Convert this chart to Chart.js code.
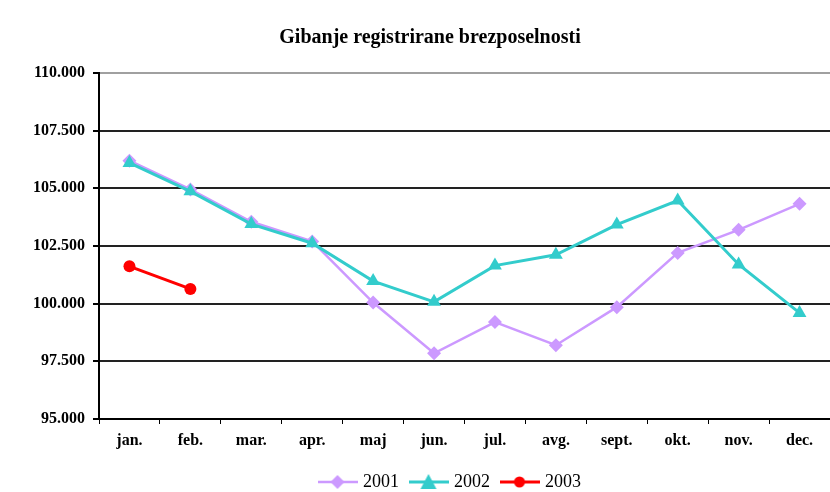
<!DOCTYPE html>
<html>
<head>
<meta charset="utf-8">
<title>Gibanje registrirane brezposelnosti</title>
<style>
html, body { margin: 0; padding: 0; background: #fff; }
#wrap { width: 830px; height: 492px; }
</style>
</head>
<body>
<div id="wrap"><canvas id="myChart" width="830" height="492"></canvas></div>
<script src="https://cdn.jsdelivr.net/npm/chart.js@4/dist/chart.umd.min.js"></script>
<script>
// données
const chartTitle = 'Gibanje registrirane brezposelnosti';
const months = ['jan.', 'feb.', 'mar.', 'apr.', 'maj', 'jun.', 'jul.', 'avg.', 'sept.', 'okt.', 'nov.', 'dec.'];
const values2001 = [106200, 104950, 103550, 102700, 100050, 97850, 99200, 98200, 99850, 102200, 103200, 104330];
const values2002 = [106100, 104870, 103450, 102620, 100980, 100080, 101650, 102120, 103430, 104470, 101700, 99600];
const values2003 = [101620, 100640];
const yMin = 95000;
const yMax = 110000;
const yStep = 2500;

const serif = "'Liberation Serif', 'Times New Roman', serif";
Chart.defaults.font.family = serif;
Chart.defaults.color = '#000';

// petite image ligne + marqueur pour la légende
function legendIcon(color, shape, lw) {
    const c = document.createElement('canvas');
    c.width = 40;
    c.height = 16;
    const ctx = c.getContext('2d');
    ctx.strokeStyle = color;
    ctx.fillStyle = color;
    ctx.lineWidth = lw;
    ctx.beginPath();
    ctx.moveTo(0, 8);
    ctx.lineTo(40, 8);
    ctx.stroke();
    ctx.beginPath();
    if (shape === 'diamond') {
        ctx.moveTo(20, 1); ctx.lineTo(27, 8); ctx.lineTo(20, 15); ctx.lineTo(13, 8);
    } else if (shape === 'triangle') {
        ctx.moveTo(20, 0); ctx.lineTo(28, 15); ctx.lineTo(12, 15);
    } else {
        ctx.arc(20, 8, 5.5, 0, Math.PI * 2);
    }
    ctx.closePath();
    ctx.fill();
    return c;
}
const icons = [
    legendIcon('#CC99FF', 'diamond', 2.5),
    legendIcon('#33CCCC', 'triangle', 3),
    legendIcon('#FF0000', 'circle', 3)
];

// décaler la légende comme sur l'original
const shiftLegend = {
    id: 'shiftLegend',
    afterLayout(chart) {
        chart.legend.left += 21;
        chart.legend.right += 21;
    }
};

const chart = new Chart(document.getElementById('myChart'), {
    type: 'line',
    data: {
        labels: months,
        datasets: [
            {
                label: '2001',
                data: values2001,
                borderColor: '#CC99FF',
                backgroundColor: '#CC99FF',
                borderWidth: 2.5,
                pointStyle: 'rectRot',
                pointRadius: 7,
                pointBorderWidth: 0,
                order: 3
            },
            {
                label: '2002',
                data: values2002,
                borderColor: '#33CCCC',
                backgroundColor: '#33CCCC',
                borderWidth: 3,
                pointStyle: 'triangle',
                pointRadius: 8,
                pointBorderWidth: 0,
                order: 2
            },
            {
                label: '2003',
                data: values2003,
                borderColor: '#FF0000',
                backgroundColor: '#FF0000',
                borderWidth: 3,
                pointStyle: 'circle',
                pointRadius: 6,
                pointBorderWidth: 0,
                order: 1
            }
        ]
    },
    options: {
        responsive: false,
        animation: false,
        devicePixelRatio: 1,
        layout: {
            autoPadding: false,
            padding: { left: 30, right: 0, top: 0, bottom: -9 }
        },
        plugins: {
            title: {
                display: true,
                text: chartTitle,
                color: '#000',
                font: { size: 20, weight: 'bold', family: serif },
                padding: { top: 26, bottom: 23 }
            },
            legend: {
                position: 'bottom',
                labels: {
                    color: '#000',
                    font: { size: 18, family: serif },
                    usePointStyle: true,
                    pointStyleWidth: 33,
                    padding: 13,
                    sort: (a, b) => a.datasetIndex - b.datasetIndex,
                    generateLabels(chart) {
                        const items = Chart.defaults.plugins.legend.labels.generateLabels(chart);
                        items.forEach(it => { it.pointStyle = icons[it.datasetIndex]; });
                        return items;
                    }
                }
            },
            tooltip: { enabled: false }
        },
        scales: {
            x: {
                offset: true,
                grid: {
                    offset: true,
                    drawOnChartArea: false,
                    color: '#000',
                    tickLength: 5,
                    lineWidth: 1
                },
                border: { color: '#000', width: 2 },
                ticks: {
                    color: '#000',
                    padding: 7,
                    maxRotation: 0,
                    autoSkip: false,
                    font: { size: 16, weight: 'bold', family: serif }
                },
                afterFit(scale) {
                    scale.height = 41;
                    scale.paddingLeft = 0;
                    scale.paddingRight = 0;
                }
            },
            y: {
                min: yMin,
                max: yMax,
                grid: {
                    color: ctx => (ctx.tick && ctx.tick.value === yMax ? '#A0A0A0' : '#222'),
                    tickColor: '#000',
                    lineWidth: 2,
                    tickLength: 6
                },
                border: { color: '#000', width: 2 },
                ticks: {
                    stepSize: yStep,
                    color: '#000',
                    padding: 8,
                    font: { size: 16, weight: 'bold', family: serif },
                    callback: v => (v / 1000).toFixed(3)
                },
                afterFit(scale) { scale.width = 69; }
            }
        },
        elements: {
            line: { tension: 0 }
        }
    },
    plugins: [shiftLegend]
});
</script>
</body>
</html>
